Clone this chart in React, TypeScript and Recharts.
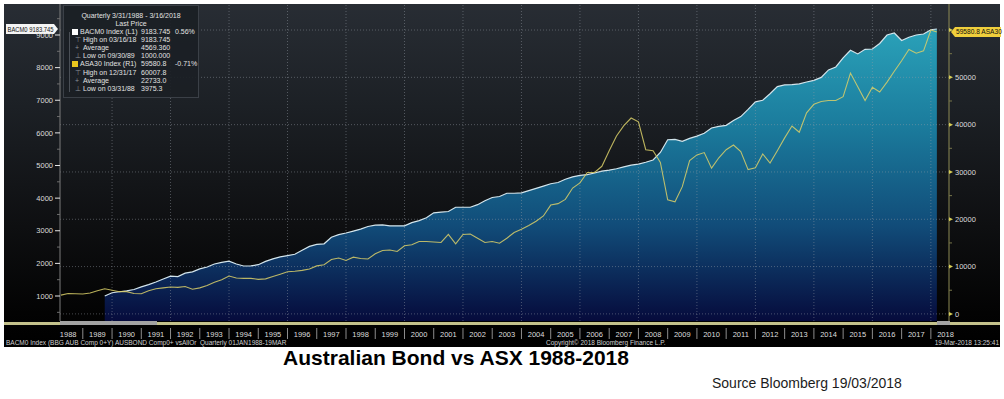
import React from 'react'
import {
  ComposedChart,
  Area,
  Line,
  XAxis,
  YAxis,
  ReferenceLine,
  ReferenceDot,
} from 'recharts'

// quarter-end dates as decimal years: 3/31/1988 ... 12/31/2017, then 3/16/2018
const quarterDates: number[] = []
for (let y = 1988; y < 2018; y++) {
  for (let q = 1; q <= 4; q++) quarterDates.push(y + q * 0.25)
}
quarterDates.push(2018.205)

// BACM0 Index (left axis), starts 9/30/1989
const bondValues: (number | null)[] = [
  null, null, null, null,
  null, null, 1000, 1100,
  1130, 1160, 1200, 1280,
  1350, 1430, 1520, 1610,
  1595, 1700, 1740, 1830,
  1890, 1980, 2030, 2070,
  1980, 1920, 1925, 1960,
  2060, 2140, 2200, 2240,
  2280, 2400, 2520, 2580,
  2600, 2800, 2880, 2930,
  2990, 3050, 3130, 3170,
  3180, 3150, 3150, 3150,
  3250, 3310, 3400, 3550,
  3570, 3590, 3720, 3720,
  3720, 3800, 3920, 4020,
  4050, 4150, 4150, 4160,
  4230, 4300, 4370, 4440,
  4480, 4580, 4650, 4700,
  4720, 4770, 4830, 4860,
  4900, 4960, 5010, 5040,
  5100, 5170, 5400, 5790,
  5800, 5740, 5830, 5900,
  5990, 6150, 6200, 6230,
  6380, 6500, 6720, 6950,
  7000, 7200, 7420, 7470,
  7480, 7500, 7560, 7610,
  7700, 7930, 8020, 8300,
  8530, 8420, 8560, 8570,
  8740, 9000, 9060, 8830,
  8930, 9000, 9030, 9160,
  9183.745,
]

// ASA30 Index (right axis)
const asxValues: number[] = [
  3975.3, 4300, 4250, 4200,
  4400, 4900, 5300, 5000,
  4700, 4700, 4300, 4250,
  4900, 5300, 5500, 5700,
  5600, 5800, 5200, 5500,
  6000, 6700, 7200, 8000,
  7600, 7500, 7500, 7300,
  7400, 7900, 8400, 8900,
  9000, 9200, 9500, 10150,
  10400, 11500, 11800, 11300,
  12000, 11700, 11600, 12700,
  13400, 13500, 13200, 14400,
  14600, 15300, 15300, 15200,
  15100, 16800, 14800, 16800,
  16900, 16000, 15100, 15300,
  14950, 16000, 17200, 17900,
  18700, 19600, 20700, 23000,
  23300, 24200, 26600, 27700,
  29900, 29900, 31200, 34500,
  37600, 39800, 41400, 40600,
  34700, 34500, 32000, 24100,
  23700, 26900, 32400, 33600,
  34100, 30800, 33000, 34700,
  35700, 34300, 30500, 30900,
  33800, 31900, 34500, 37200,
  39700, 38400, 42500, 44300,
  44900, 45100, 45100, 45900,
  50900, 48000, 45100, 47900,
  46900, 49000, 51300, 53500,
  55900, 55100, 55600, 60007.8,
  59580.8,
]

const yearLabels = [
  1988, 1989, 1990, 1991, 1992, 1993, 1994, 1995, 1996, 1997, 1998,
  1999, 2000, 2001, 2002, 2003, 2004, 2005, 2006, 2007, 2008, 2009,
  2010, 2011, 2012, 2013, 2014, 2015, 2016, 2017, 2018,
]
const gridYears = [1990, 1992, 1994, 1996, 1998, 2000, 2002, 2004, 2006, 2008, 2010, 2012, 2014, 2016, 2018]
const leftTicks = [500, 1000, 1500, 2000, 2500, 3000, 3500, 4000, 4500, 5000, 5500, 6000, 6500, 7000, 7500, 8000, 8500, 9000, 9500]
const rightTicks = [0, 5000, 10000, 15000, 20000, 25000, 30000, 35000, 40000, 45000, 50000, 55000, 60000]
const rightGrid = [0, 10000, 20000, 30000, 40000, 50000, 60000]

const FONT = "'Liberation Sans', Arial, sans-serif"
const LEFT_W = 60
const RIGHT_W = 55
const CHART_W = 1004
const CHART_H = 347
const TOP = 4
const X_AXIS_H = 26
const AXIS_LEFT_X = LEFT_W
const AXIS_RIGHT_X = CHART_W - RIGHT_W
const PLOT_BOTTOM = CHART_H - X_AXIS_H

const xTicks = [
  ...yearLabels.map((y) => y + 0.5),
  ...yearLabels.slice(1).map((y) => y),
]

function YearTick(props: any) {
  const { x, payload } = props
  const v = payload.value as number
  if (Number.isInteger(v)) {
    return <line x1={x} x2={x} y1={PLOT_BOTTOM + 7} y2={PLOT_BOTTOM + 18} stroke="#8d8d8d" />
  }
  return (
    <text x={x} y={PLOT_BOTTOM + 15.5} textAnchor="middle" fill="#dedede" fontSize={7.5} fontFamily={FONT}>
      {Math.floor(v)}
    </text>
  )
}

function LeftTick(props: any) {
  const { y, payload } = props
  const v = payload.value as number
  const major = v % 1000 === 0
  return (
    <g>
      <line x1={major ? AXIS_LEFT_X - 5 : AXIS_LEFT_X - 3} x2={AXIS_LEFT_X} y1={y} y2={y} stroke={major ? '#e6e6e6' : '#6e6e6e'} />
      {major && (
        <text x={AXIS_LEFT_X - 7} y={y} dy={2.7} textAnchor="end" fill="#dcdcdc" fontSize={7.5} fontFamily={FONT}>
          {v}
        </text>
      )}
    </g>
  )
}

function RightTick(props: any) {
  const { y, payload } = props
  const v = payload.value as number
  const major = v % 10000 === 0
  if (!major) {
    return <line x1={AXIS_RIGHT_X} x2={AXIS_RIGHT_X + 3} y1={y} y2={y} stroke="#77754a" />
  }
  return (
    <g>
      <polygon
        points={`${AXIS_RIGHT_X},${y - 2} ${AXIS_RIGHT_X + 4},${y} ${AXIS_RIGHT_X},${y + 2}`}
        fill="#d6cc55"
      />
      {v < 60000 && (
        <text x={AXIS_RIGHT_X + 6} y={y} dy={2.7} textAnchor="start" fill="#dcdcdc" fontSize={7.5} fontFamily={FONT}>
          {v}
        </text>
      )}
    </g>
  )
}

function LeftTag(props: any) {
  const vb = props.viewBox || {}
  const cy = vb.y + (vb.height || 0) / 2
  return (
    <g>
      <polygon
        points={`6,${cy - 5} 54,${cy - 5} 58,${cy} 54,${cy + 5} 6,${cy + 5}`}
        fill="#f4f4f4"
      />
      <text
        x={7.5}
        y={cy}
        dy={2.6}
        fill="#111"
        fontSize={7.5}
        fontFamily={FONT}
        textLength={46}
        lengthAdjust="spacingAndGlyphs"
      >
        BACM0 9183.745
      </text>
    </g>
  )
}

function RightTag(props: any) {
  const vb = props.viewBox || {}
  const cy = vb.y + (vb.height || 0) / 2
  const x0 = AXIS_RIGHT_X + 2
  return (
    <g>
      <polygon
        points={`${x0},${cy} ${x0 + 4},${cy - 5} ${x0 + 50},${cy - 5} ${x0 + 50},${cy + 5} ${x0 + 4},${cy + 5}`}
        fill="#f0cf3c"
      />
      <text x={x0 + 5} y={cy} dy={2.4} fill="#111" fontSize={6.6} fontFamily={FONT}>
        59580.8 ASA30
      </text>
    </g>
  )
}

const legendRows = [
  { swatch: '#ffffff', glyph: '', label: 'BACM0 Index (L1)', value: '9183.745', change: '0.56%' },
  { swatch: '', glyph: '⊤', label: 'High on 03/16/18', value: '9183.745', change: '' },
  { swatch: '', glyph: '+', label: 'Average', value: '4569.360', change: '' },
  { swatch: '', glyph: '⊥', label: 'Low on 09/30/89', value: '1000.000', change: '' },
  { swatch: '#e8c51e', glyph: '', label: 'ASA30 Index (R1)', value: '59580.8', change: '-0.71%' },
  { swatch: '', glyph: '⊤', label: 'High on 12/31/17', value: '60007.8', change: '' },
  { swatch: '', glyph: '+', label: 'Average', value: '22733.0', change: '' },
  { swatch: '', glyph: '⊥', label: 'Low on 03/31/88', value: '3975.3', change: '' },
]

function Legend() {
  return (
    <div
      style={{
        position: 'absolute',
        left: 63,
        top: 5,
        width: 134,
        height: 91,
        background: 'rgba(27,31,37,0.93)',
        border: '1px solid #3b4047',
        color: '#e2e2e2',
        fontFamily: FONT,
        fontSize: 7,
        lineHeight: '8px',
        whiteSpace: 'nowrap',
      }}
    >
      <div style={{ position: 'absolute', left: 0, top: 6, width: 134, textAlign: 'center' }}>
        Quarterly 3/31/1988 - 3/16/2018
      </div>
      <div style={{ position: 'absolute', left: 0, top: 14, width: 134, textAlign: 'center' }}>Last Price</div>
      <div style={{ position: 'absolute', left: 5, top: 26, width: 1, height: 60, background: '#4a4f56' }} />
      {legendRows.map((r, i) => (
        <div key={i} style={{ position: 'absolute', left: 0, top: 22 + i * 8.1, width: 134, height: 8 }}>
          {r.swatch ? (
            <div style={{ position: 'absolute', left: 8, top: 1, width: 6, height: 6, background: r.swatch }} />
          ) : (
            <div style={{ position: 'absolute', left: 11, top: 0, color: '#8a8f96' }}>{r.glyph}</div>
          )}
          <div style={{ position: 'absolute', left: r.swatch ? 16 : 19, top: 0 }}>{r.label}</div>
          <div style={{ position: 'absolute', left: 77, top: 0 }}>{r.value}</div>
          <div style={{ position: 'absolute', left: 111, top: 0 }}>{r.change}</div>
        </div>
      ))}
    </div>
  )
}

export default function App() {
  const data = quarterDates.map((t, i) => ({ t, bond: bondValues[i], asx: asxValues[i] }))

  return (
    <div
      style={{
        position: 'absolute',
        left: 0,
        top: 0,
        width: 1004,
        height: 399,
        background: '#ffffff',
        overflow: 'hidden',
      }}
    >
      <div
        style={{
          position: 'absolute',
          left: 4,
          top: TOP,
          width: 996,
          height: CHART_H - TOP,
          background: 'linear-gradient(to bottom, #282d34 0%, #1c2025 30%, #0e0f11 65%, #030303 90%, #000 100%)',
        }}
      />
      <div style={{ position: 'absolute', left: 0, top: 0 }}>
        <ComposedChart
          width={CHART_W}
          height={CHART_H}
          data={data}
          margin={{ top: TOP, right: 0, bottom: 0, left: 0 }}
        >
          <defs>
            <linearGradient id="bondFill" gradientUnits="userSpaceOnUse" x1="0" y1={TOP} x2="0" y2={PLOT_BOTTOM}>
              <stop offset="0%" stopColor="#2eabc0" />
              <stop offset="38%" stopColor="#1b7c9d" />
              <stop offset="70%" stopColor="#114c79" />
              <stop offset="100%" stopColor="#060b3c" />
            </linearGradient>
          </defs>
          <XAxis
            dataKey="t"
            type="number"
            domain={[1988.22, 2018.62]}
            allowDataOverflow
            ticks={xTicks}
            interval={0}
            tick={(p: any) => <YearTick {...p} />}
            axisLine={false}
            tickLine={false}
            height={X_AXIS_H}
          />
          <YAxis
            yAxisId="left"
            domain={[234, 9950]}
            allowDataOverflow
            ticks={leftTicks}
            interval={0}
            width={LEFT_W}
            tick={(p: any) => <LeftTick {...p} />}
            tickLine={false}
            axisLine={{ stroke: '#7c7c7c' }}
          />
          <YAxis
            yAxisId="right"
            orientation="right"
            domain={[-1500, 65500]}
            allowDataOverflow
            ticks={rightTicks}
            interval={0}
            width={RIGHT_W}
            tick={(p: any) => <RightTick {...p} />}
            tickLine={false}
            axisLine={{ stroke: '#8d8a55' }}
          />
          <Area
            yAxisId="left"
            type="linear"
            dataKey="bond"
            stroke="#d3e5ec"
            strokeWidth={1.2}
            fill="url(#bondFill)"
            fillOpacity={1}
            dot={false}
            activeDot={false}
            isAnimationActive={false}
          />
          {gridYears.map((y) => (
            <ReferenceLine
              key={`vx-${y}`}
              yAxisId="left"
              x={y}
              stroke="#9aa0a8"
              strokeOpacity={0.45}
              strokeDasharray="1 2"
            />
          ))}
          {rightGrid.map((v) => (
            <ReferenceLine
              key={`hy-${v}`}
              yAxisId="right"
              y={v}
              stroke="#9aa0a8"
              strokeOpacity={0.45}
              strokeDasharray="1 2"
            />
          ))}
          <Line
            yAxisId="right"
            type="linear"
            dataKey="asx"
            stroke="#d9cf68"
            strokeOpacity={0.85}
            strokeWidth={1.1}
            dot={false}
            activeDot={false}
            isAnimationActive={false}
          />
          <ReferenceDot
            yAxisId="left"
            x={quarterDates[quarterDates.length - 1]}
            y={bondValues[bondValues.length - 1] as number}
            r={1}
            fill="none"
            stroke="none"
            label={(p: any) => <LeftTag {...p} />}
          />
          <ReferenceDot
            yAxisId="right"
            x={quarterDates[quarterDates.length - 1]}
            y={asxValues[asxValues.length - 1]}
            r={1}
            fill="none"
            stroke="none"
            label={(p: any) => <RightTag {...p} />}
          />
        </ComposedChart>
      </div>

      {/* time range bar under the plot */}
      <div style={{ position: 'absolute', left: 4, top: PLOT_BOTTOM + 1, width: 996, height: 3, background: '#c4c28c' }} />
      <div style={{ position: 'absolute', left: 60, top: PLOT_BOTTOM, width: 97, height: 4, background: '#a3a3a3' }} />
      <div style={{ position: 'absolute', left: 937, top: PLOT_BOTTOM, width: 13, height: 4, background: '#a3a3a3' }} />

      <Legend />

      <div
        style={{
          position: 'absolute',
          left: 6,
          top: 339,
          fontFamily: FONT,
          fontSize: 6.5,
          color: '#cfcfcf',
          whiteSpace: 'pre',
          lineHeight: '8px',
        }}
      >
        BACM0 Index (BBG AUB Comp 0+Y) AUSBOND Comp0+ vsAllOr  Quarterly 01JAN1988-19MAR
      </div>
      <div
        style={{
          position: 'absolute',
          left: 546,
          top: 339,
          fontFamily: FONT,
          fontSize: 6.5,
          color: '#cfcfcf',
          whiteSpace: 'pre',
          lineHeight: '8px',
        }}
      >
        Copyright© 2018 Bloomberg Finance L.P.
      </div>
      <div
        style={{
          position: 'absolute',
          right: 5,
          top: 339,
          fontFamily: FONT,
          fontSize: 6.5,
          color: '#cfcfcf',
          whiteSpace: 'pre',
          lineHeight: '8px',
        }}
      >
        19-Mar-2018 13:25:41
      </div>

      <div
        style={{
          position: 'absolute',
          left: 0,
          top: 346,
          width: 912,
          textAlign: 'center',
          fontFamily: FONT,
          fontWeight: 'bold',
          fontSize: 21,
          lineHeight: '24px',
          color: '#000',
        }}
      >
        Australian Bond vs ASX 1988-2018
      </div>
      <div
        style={{
          position: 'absolute',
          left: 712,
          top: 375,
          fontFamily: FONT,
          fontSize: 14,
          lineHeight: '16px',
          color: '#1c1c1c',
          whiteSpace: 'pre',
        }}
      >
        Source Bloomberg 19/03/2018
      </div>
    </div>
  )
}
